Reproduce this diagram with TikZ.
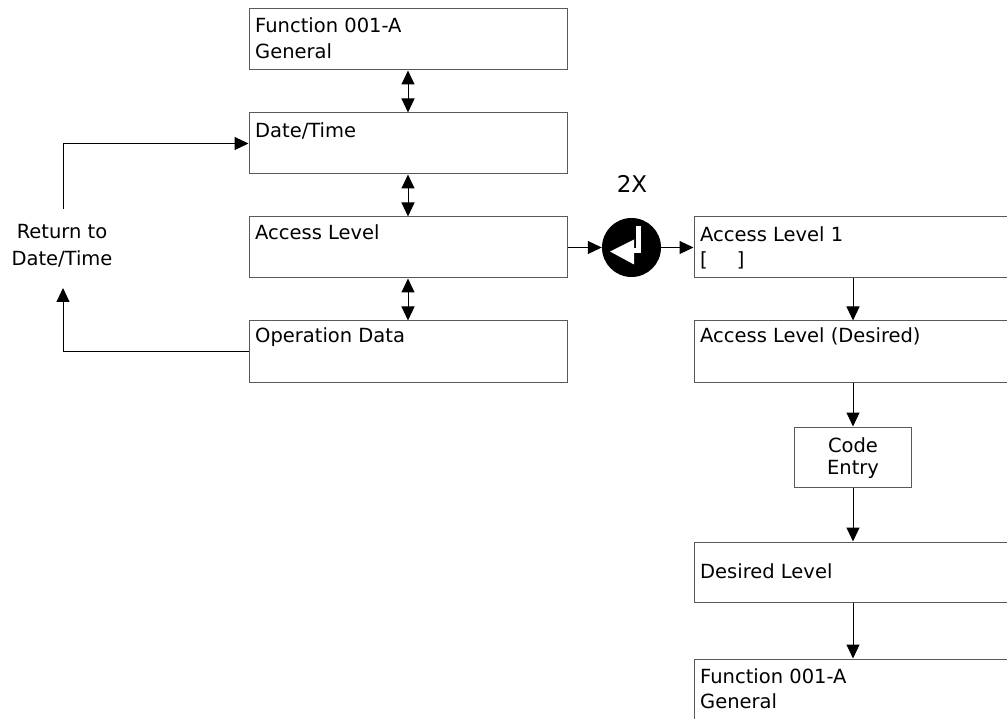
\documentclass[tikz,border=0pt]{standalone}
\usepackage{fontspec}
\setmainfont{DejaVu Sans}
\usetikzlibrary{arrows.meta,calc}
\begin{document}
\begin{tikzpicture}[x=1pt,y=-1pt,
  box/.style={draw=black!65,line width=1pt,rectangle,inner sep=0pt,minimum width=318pt,minimum height=61pt},
  txt/.style={anchor=base west,inner sep=0pt,font=\fontsize{19.5}{26}\selectfont},
  arr/.style={line width=1pt,-{Triangle[length=14pt,width=13pt]}},
  dbl/.style={line width=1pt,{Triangle[length=14pt,width=13pt]}-{Triangle[length=14pt,width=13pt]}}
]
\useasboundingbox (0,0) rectangle (1007,719);
% left column
\node[box] (f1) at (408,39.5) {};
\node[box] (dt) at (408,143.5) {};
\node[box] (al) at (408,247.5) {};
\node[box] (od) at (408,351.5) {};
\node[txt] (f1a) at (255,33) {Function 001-A};
\node[txt] (f1b) at (255,59) {General};
\node[txt] (dtt) at (255,138) {Date/Time};
\node[txt] (alt) at (255,240) {Access Level};
\node[txt] (odt) at (255,343) {Operation Data};
% right column
\node[box] (al1) at (853,247.5) {};
\node[box] (ald) at (853,351.5) {};
\node[box,minimum width=117pt,minimum height=60pt] (ce) at (853,457) {};
\node[box,minimum height=60pt] (dl) at (853,572) {};
\node[box] (f2) at (853,689.5) {};
\node[txt] (al1a) at (700,242) {Access Level 1};
\node[txt] (al1b) at (700,267) {[\hspace{29pt}]};
\node[txt] (aldt) at (700,343) {Access Level (Desired)};
\node[txt] (cea) at (853,452) [anchor=base] {Code};
\node[txt] (ceb) at (853,474) [anchor=base] {Entry};
\node[txt] (dlt) at (700,578) {Desired Level};
\node[txt] (f2a) at (700,683) {Function 001-A};
\node[txt] (f2b) at (700,708) {General};
% return label
\node[txt,anchor=base] (rt1) at (62,239) {Return to};
\node[txt,anchor=base] (rt2) at (62,266) {Date/Time};
\coordinate (rtb) at (63,288);
\coordinate (rtt) at (63,209);
% enter key
\node[circle,fill=black,minimum size=59pt,inner sep=0pt] (ent) at (631.5,247.5) {};
\fill[white] ($(ent.center)+(-21.5,4)$) -- ($(ent.center)+(2.5,-8)$) -- ($(ent.center)+(2.5,17)$) -- cycle;
\fill[white] ($(ent.center)+(4.5,-21)$) rectangle ($(ent.center)+(9.5,6)$);
\fill[white] ($(ent.center)+(1.5,1)$) rectangle ($(ent.center)+(9.5,6)$);
\node[inner sep=0pt,font=\fontsize{23}{26}\selectfont,anchor=base] (twox) at (632,193) {2X};
% connectors
\draw[dbl] (f1.south) -- (dt.north);
\draw[dbl] (dt.south) -- (al.north);
\draw[dbl] (al.south) -- (od.north);
\draw[arr] (od.west) -| (rtb);
\draw[arr] (rtt) |- (dt.west);
\draw[arr] (al.east) -- (ent.west);
\draw[arr] (ent.east) -- (al1.west);
\draw[arr] (al1.south) -- (ald.north);
\draw[arr] (ald.south) -- (ce.north);
\draw[arr] (ce.south) -- (dl.north);
\draw[arr] (dl.south) -- (f2.north);
\end{tikzpicture}
\end{document}
